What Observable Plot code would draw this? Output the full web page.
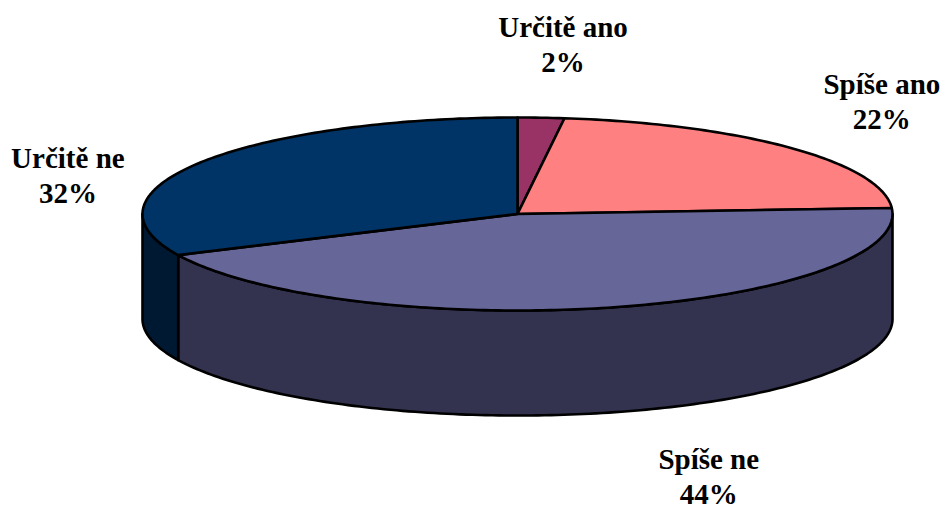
<!DOCTYPE html>
<html>
<head>
<meta charset="utf-8">
<style>html,body{margin:0;padding:0;background:#fff}svg{display:block}</style>
<script src="https://cdn.jsdelivr.net/npm/d3@7"></script>
<script src="https://cdn.jsdelivr.net/npm/@observablehq/plot@0.6"></script>
</head>
<body>
<div id="chart"></div>
<script>
const categories = ["Určitě ano", "Spíše ano", "Spíše ne", "Určitě ne"];
const values = [2, 22, 44, 32];
const topColors = ["#993366", "#FF8080", "#666699", "#003366"];
const sideColors = ["#4D1933", "#804040", "#333350", "#001933"];
// label offset from the rim point at each slice's middle angle
const labelDx = [22, 91, 98, -133];
const labelDy = [-74, -48, 168, 12];

// Pie geometry (in chart units)
const cx = 517, cy = 213.5, rx = 375, ry = 96.5, depth = 105;
const rim = (deg, drop = 0) => {
  const a = deg * Math.PI / 180;
  return {px: cx + rx * Math.sin(a), py: cy - ry * Math.cos(a) + drop};
};
const arc = (a0, a1, drop = 0) => {
  const n = Math.max(2, Math.ceil(Math.abs(a1 - a0)));
  return d3.range(n + 1).map(i => rim(a0 + (a1 - a0) * i / n, drop));
};
const total = d3.sum(values);
const cum = d3.cumsum(values);
const slices = categories.map((name, i) => ({
  name, value: values[i], i,
  a0: (i ? cum[i - 1] : 0) / total * 360,
  a1: cum[i] / total * 360
}));

const closed = pts => [...pts, pts[0]];
const outline = {x: "px", y: "py", strokeWidth: 2.6, stroke: "#000", strokeLinejoin: "round"};
const marks = [];

// Visible side walls: everything on the front half of the ellipse (90°..270°)
for (const s of slices) {
  const a0 = Math.max(s.a0, 90), a1 = Math.min(s.a1, 270);
  if (a1 <= a0) continue;
  const wall = [...arc(a0, a1), ...arc(a1, a0, depth)];
  marks.push(Plot.line(closed(wall), {...outline, fill: sideColors[s.i]}));
}
// Top faces
for (const s of slices) {
  const face = [{px: cx, py: cy}, ...arc(s.a0, s.a1)];
  marks.push(Plot.line(closed(face), {...outline, fill: topColors[s.i]}));
}
// Labels
slices.forEach(s => {
  const anchor = rim((s.a0 + s.a1) / 2);
  marks.push(Plot.text([anchor], {
    x: "px", y: "py",
    text: () => `${s.name}\n${s.value}%`,
    dx: labelDx[s.i], dy: labelDy[s.i],
    fontFamily: "Liberation Serif", fontWeight: "bold", fontSize: 29,
    lineHeight: 1.21, fill: "#000", textAnchor: "middle"
  }));
});

document.getElementById("chart").append(Plot.plot({
  width: 942, height: 506,
  margin: 0,
  x: {domain: [0, 942], range: [0, 942], axis: null},
  y: {domain: [0, 506], range: [0, 506], axis: null},
  marks
}));
</script>
</body>
</html>
